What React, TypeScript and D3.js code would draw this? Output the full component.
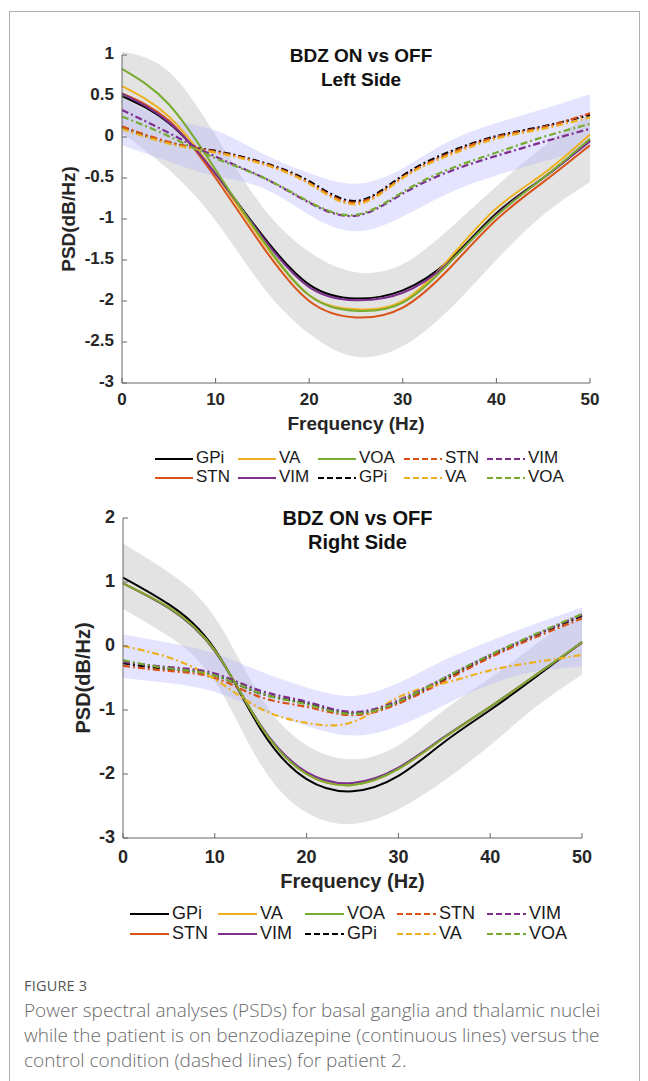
import React from "react";
import * as d3 from "d3";

const FREQ = [0, 5, 10, 15, 20, 25, 30, 35, 40, 45, 50];

const NUCLEI = ["GPi", "STN", "VA", "VIM", "VOA"];
const COLORS = ["#000000", "#D95319", "#EDB120", "#7E2F8E", "#77AC30"];

// ---- left side, BDZ ON (solid) ----
const leftOnGPi = [0.5, 0.17, -0.45, -1.2, -1.8, -1.97, -1.87, -1.5, -0.93, -0.5, -0.04];
const leftOnSTN = [0.53, 0.2, -0.5, -1.33, -2.0, -2.2, -2.08, -1.6, -1.01, -0.55, -0.1];
const leftOnVA = [0.62, 0.25, -0.45, -1.27, -1.93, -2.1, -2.0, -1.48, -0.87, -0.45, 0.03];
const leftOnVIM = [0.53, 0.18, -0.45, -1.22, -1.83, -1.99, -1.9, -1.52, -0.95, -0.5, -0.05];
const leftOnVOA = [0.83, 0.4, -0.4, -1.25, -1.93, -2.12, -2.02, -1.53, -0.96, -0.5, -0.02];
// ---- left side, BDZ OFF (dashed) ----
const leftOffGPi = [0.12, -0.07, -0.17, -0.31, -0.54, -0.78, -0.47, -0.18, 0.01, 0.13, 0.27];
const leftOffSTN = [0.13, -0.06, -0.18, -0.32, -0.56, -0.8, -0.49, -0.2, 0.0, 0.12, 0.29];
const leftOffVA = [0.1, -0.08, -0.19, -0.33, -0.57, -0.82, -0.5, -0.22, -0.02, 0.1, 0.24];
const leftOffVIM = [0.33, 0.05, -0.24, -0.49, -0.8, -0.96, -0.69, -0.42, -0.23, -0.06, 0.1];
const leftOffVOA = [0.25, 0.01, -0.26, -0.49, -0.79, -0.95, -0.67, -0.39, -0.19, 0.0, 0.16];
// shaded spread
const leftOnUpper = [1.04, 0.8, 0.02, -0.85, -1.4, -1.65, -1.55, -1.12, -0.6, -0.12, 0.28];
const leftOnLower = [0.05, -0.4, -1.02, -1.82, -2.4, -2.68, -2.55, -2.1, -1.5, -0.95, -0.55];
const leftOffUpper = [0.48, 0.22, 0.08, -0.2, -0.44, -0.57, -0.38, -0.05, 0.17, 0.34, 0.52];
const leftOffLower = [-0.1, -0.3, -0.48, -0.62, -0.95, -1.15, -0.97, -0.68, -0.47, -0.3, -0.14];

// ---- right side, BDZ ON (solid) ----
const rightOnGPi = [1.07, 0.65, -0.05, -1.3, -2.08, -2.27, -2.03, -1.5, -1.0, -0.48, 0.06];
const rightOnSTN = [0.98, 0.6, -0.07, -1.25, -2.0, -2.17, -1.92, -1.43, -0.95, -0.45, 0.05];
const rightOnVA = [0.98, 0.6, -0.07, -1.25, -2.0, -2.17, -1.92, -1.43, -0.95, -0.45, 0.05];
const rightOnVIM = [0.98, 0.59, -0.08, -1.24, -1.97, -2.14, -1.9, -1.42, -0.95, -0.45, 0.05];
const rightOnVOA = [0.98, 0.6, -0.07, -1.25, -2.0, -2.17, -1.92, -1.43, -0.95, -0.45, 0.06];
// ---- right side, BDZ OFF (dashed) ----
const rightOffGPi = [-0.27, -0.36, -0.46, -0.74, -0.9, -1.05, -0.88, -0.52, -0.16, 0.17, 0.47];
const rightOffSTN = [-0.31, -0.39, -0.5, -0.8, -0.95, -1.08, -0.9, -0.55, -0.18, 0.14, 0.43];
const rightOffVA = [0.0, -0.18, -0.52, -0.98, -1.2, -1.19, -0.8, -0.58, -0.38, -0.25, -0.14];
const rightOffVIM = [-0.25, -0.33, -0.43, -0.7, -0.87, -1.03, -0.85, -0.5, -0.14, 0.18, 0.49];
const rightOffVOA = [-0.22, -0.35, -0.46, -0.74, -0.91, -1.06, -0.87, -0.5, -0.14, 0.19, 0.5];
// shaded spread
const rightOnUpper = [1.6, 1.15, 0.45, -0.8, -1.55, -1.77, -1.55, -1.0, -0.5, 0.03, 0.55];
const rightOnLower = [0.58, 0.15, -0.55, -1.85, -2.6, -2.78, -2.55, -2.1, -1.55, -0.95, -0.45];
const rightOffUpper = [0.18, 0.05, -0.12, -0.4, -0.65, -0.78, -0.58, -0.22, 0.08, 0.35, 0.6];
const rightOffLower = [-0.5, -0.58, -0.72, -1.0, -1.25, -1.4, -1.25, -0.92, -0.6, -0.4, -0.32];

const X_TICKS = [0, 10, 20, 30, 40, 50];
const LEFT_Y_TICKS = [-3, -2.5, -2, -1.5, -1, -0.5, 0, 0.5, 1];
const RIGHT_Y_TICKS = [-3, -2, -1, 0, 1, 2];

// legend entries in the order MATLAB lays them out (row by row)
const LEGEND_ROWS = [
  [["GPi", 0, false], ["VA", 2, false], ["VOA", 4, false], ["STN", 1, true], ["VIM", 3, true]],
  [["STN", 1, false], ["VIM", 3, false], ["GPi", 0, true], ["VA", 2, true], ["VOA", 4, true]],
] as [string, number, boolean][][];

const CAPTION = [
  "Power spectral analyses (PSDs) for basal ganglia and thalamic nuclei",
  "while the patient is on benzodiazepine (continuous lines) versus the",
  "control condition (dashed lines) for patient 2.",
];

const FONT = "'Liberation Sans', Arial, Helvetica, sans-serif";
const DASH = "7,3,2,3";

type PanelProps = {
  on: number[][];
  off: number[][];
  onBand: number[][];
  offBand: number[][];
  yDomain: [number, number];
  yTicks: number[];
  xPx: [number, number];
  yPx: [number, number];
  titleY: number;
  sideLabel: string;
  fs: number;
  labelFs: number;
  yLabelX: number;
  xTickY: number;
  xLabelY: number;
  legendCols: number[];
  legendRows: number[];
  legendFs: number;
  lineLen: number;
};

function Panel(p: PanelProps) {
  const x = d3.scaleLinear().domain([0, 50]).range(p.xPx);
  const y = d3.scaleLinear().domain(p.yDomain).range(p.yPx);
  const curve = d3.curveNatural;
  const line = d3
    .line<number>()
    .x((_, i) => x(FREQ[i]))
    .y((d) => y(d))
    .curve(curve);
  const band = (upper: number[], lower: number[]) =>
    d3
      .area<number>()
      .x((_, i) => x(FREQ[i]))
      .y0((_, i) => y(lower[i]))
      .y1((d) => y(d))
      .curve(curve)(upper) || "";
  const cx = (p.xPx[0] + p.xPx[1]) / 2;
  const [yb, yt] = p.yPx;

  return (
    <g fontFamily={FONT}>
      <path d={band(p.onBand[0], p.onBand[1])} fill="#cccccc" fillOpacity={0.55} />
      <path d={band(p.offBand[0], p.offBand[1])} fill="#b3b3ff" fillOpacity={0.35} />
      {p.on.map((v, i) => (
        <path key={"on" + i} d={line(v) || ""} fill="none" stroke={COLORS[i]} strokeWidth={2} />
      ))}
      {p.off.map((v, i) => (
        <path
          key={"off" + i}
          d={line(v) || ""}
          fill="none"
          stroke={COLORS[i]}
          strokeWidth={2.2}
          strokeDasharray={DASH}
        />
      ))}

      {/* axes */}
      <line x1={p.xPx[0]} x2={p.xPx[0]} y1={yb} y2={yt} stroke="#666" strokeWidth={1} />
      <line x1={p.xPx[0]} x2={p.xPx[1]} y1={yb} y2={yb} stroke="#666" strokeWidth={1} />
      {X_TICKS.map((t) => (
        <g key={"xt" + t}>
          <line x1={x(t)} x2={x(t)} y1={yb} y2={yb - 5} stroke="#666" />
          <text
            x={x(t)}
            y={p.xTickY}
            textAnchor="middle"
            dominantBaseline="middle"
            fontSize={p.fs}
            fontWeight="bold"
            fill="#262626"
          >
            {t}
          </text>
        </g>
      ))}
      {p.yTicks.map((t) => (
        <g key={"yt" + t}>
          <line x1={p.xPx[0]} x2={p.xPx[0] + 5} y1={y(t)} y2={y(t)} stroke="#666" />
          <text
            x={p.xPx[0] - 8}
            y={y(t)}
            textAnchor="end"
            dominantBaseline="middle"
            fontSize={p.fs}
            fontWeight="bold"
            fill="#262626"
          >
            {t}
          </text>
        </g>
      ))}
      <text
        x={cx}
        y={p.xLabelY}
        textAnchor="middle"
        dominantBaseline="middle"
        fontSize={p.labelFs}
        fontWeight="bold"
        fill="#262626"
      >
        Frequency (Hz)
      </text>
      <text
        transform={`translate(${p.yLabelX},${(yb + yt) / 2}) rotate(-90)`}
        textAnchor="middle"
        dominantBaseline="middle"
        fontSize={p.labelFs}
        fontWeight="bold"
        fill="#262626"
      >
        PSD(dB/Hz)
      </text>
      <text x={cx + 5} y={p.titleY} textAnchor="middle" dominantBaseline="middle" fontSize={p.labelFs} fontWeight="bold" fill="#111">
        BDZ ON vs OFF
      </text>
      <text
        x={cx + 5}
        y={p.titleY + 24}
        textAnchor="middle"
        dominantBaseline="middle"
        fontSize={p.labelFs}
        fontWeight="bold"
        fill="#111"
      >
        {p.sideLabel}
      </text>

      {/* legend */}
      {LEGEND_ROWS.map((row, r) =>
        row.map(([name, ci, dashed], c) => (
          <g key={`lg${r}-${c}`}>
            <line
              x1={p.legendCols[c]}
              x2={p.legendCols[c] + p.lineLen}
              y1={p.legendRows[r]}
              y2={p.legendRows[r]}
              stroke={COLORS[ci]}
              strokeWidth={2.2}
              strokeDasharray={dashed ? "6,3" : undefined}
            />
            <text
              x={p.legendCols[c] + p.lineLen + 3}
              y={p.legendRows[r]}
              dominantBaseline="middle"
              fontSize={p.legendFs}
              fill="#1a1a1a"
            >
              {name}
            </text>
          </g>
        ))
      )}
    </g>
  );
}

export default function App() {
  return (
    <svg
      width={648}
      height={1081}
      style={{ position: "absolute", left: 0, top: 0, background: "#fff" }}
    >
      <rect x={9.5} y={11.5} width={630} height={1090} fill="#fff" stroke="#b0b0b0" />
      <Panel
        on={[leftOnGPi, leftOnSTN, leftOnVA, leftOnVIM, leftOnVOA]}
        off={[leftOffGPi, leftOffSTN, leftOffVA, leftOffVIM, leftOffVOA]}
        onBand={[leftOnUpper, leftOnLower]}
        offBand={[leftOffUpper, leftOffLower]}
        yDomain={[-3, 1]}
        yTicks={LEFT_Y_TICKS}
        xPx={[122, 590]}
        yPx={[383, 55]}
        titleY={57}
        sideLabel="Left Side"
        fs={17}
        labelFs={19}
        yLabelX={70}
        xTickY={401}
        xLabelY={425}
        legendCols={[155, 238, 318, 404, 487]}
        legendRows={[459, 478]}
        legendFs={17}
        lineLen={38}
      />
      <Panel
        on={[rightOnGPi, rightOnSTN, rightOnVA, rightOnVIM, rightOnVOA]}
        off={[rightOffGPi, rightOffSTN, rightOffVA, rightOffVIM, rightOffVOA]}
        onBand={[rightOnUpper, rightOnLower]}
        offBand={[rightOffUpper, rightOffLower]}
        yDomain={[-3, 2]}
        yTicks={RIGHT_Y_TICKS}
        xPx={[123, 582]}
        yPx={[838, 518]}
        titleY={520}
        sideLabel="Right Side"
        fs={18}
        labelFs={20}
        yLabelX={85}
        xTickY={858}
        xLabelY={883}
        legendCols={[130, 218, 305, 397, 487]}
        legendRows={[914, 934]}
        legendFs={18}
        lineLen={39}
      />
      <g fontFamily="'Open Sans', 'Noto Sans', sans-serif">
        <text x={24} y={991} fontSize={14.5} fill="#555" letterSpacing={0.2}>
          FIGURE 3
        </text>
        {CAPTION.map((s, i) => (
          <text key={i} x={24} y={1017 + i * 25} fontSize={19} fill="#6a6a6a" fontWeight={300}>
            {s}
          </text>
        ))}
      </g>
    </svg>
  );
}
